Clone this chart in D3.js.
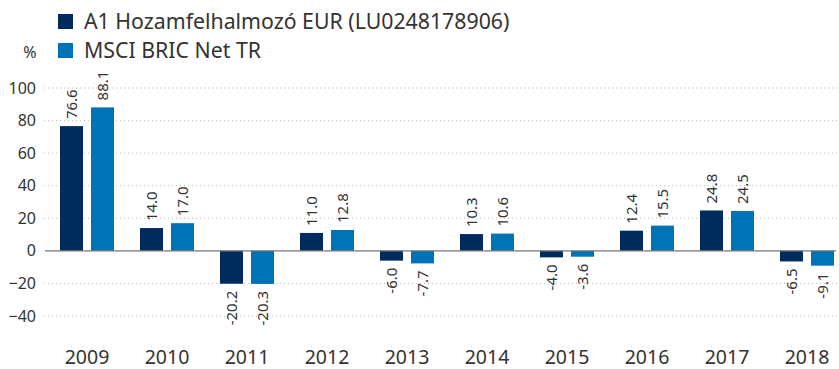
<!DOCTYPE html>
<html>
<head>
<meta charset="utf-8">
<script src="https://cdn.jsdelivr.net/npm/d3@7"></script>
<style>
  html, body { margin: 0; padding: 0; background: #fff; }
  svg { display: block; font-family: "Noto Sans", "Open Sans", sans-serif; }
</style>
</head>
<body>
<svg id="chart" width="839" height="369"></svg>
<script>
// Annual returns, fund vs. benchmark
const years = ["2009", "2010", "2011", "2012", "2013", "2014", "2015", "2016", "2017", "2018"];
const seriesNames = ["A1 Hozamfelhalmozó EUR (LU0248178906)", "MSCI BRIC Net TR"];
const fundValues = [76.6, 14.0, -20.2, 11.0, -6.0, 10.3, -4.0, 12.4, 24.8, -6.5];
const indexValues = [88.1, 17.0, -20.3, 12.8, -7.7, 10.6, -3.6, 15.5, 24.5, -9.1];
const yTicks = [-40, -20, 0, 20, 40, 60, 80, 100];
const colors = ["#002b5c", "#0073b7"];

const svg = d3.select("#chart");
const textColor = "#333";

const y = d3.scaleLinear().domain([-40, 100]).range([316, 88]);
const x0 = d3.scaleBand().domain(years).range([47, 847]).padding(0);
const x1 = d3.scaleBand().domain([0, 1]).range([13, 67]).paddingInner(0.258).paddingOuter(0);

// Gridlines
svg.append("g")
  .selectAll("line")
  .data(yTicks.filter(d => d !== 0))
  .join("line")
  .attr("x1", 44).attr("x2", 839)
  .attr("y1", d => y(d)).attr("y2", d => y(d))
  .attr("stroke", "#bbb")
  .attr("stroke-width", 1)
  .attr("stroke-dasharray", "1,3");

// Y axis labels
const yAxis = d3.axisLeft(y).tickValues(yTicks).tickSize(0).tickPadding(0);
svg.append("g")
  .attr("transform", "translate(36,0)")
  .call(yAxis)
  .call(g => g.select(".domain").remove())
  .call(g => g.selectAll("text")
    .attr("fill", textColor)
    .attr("font-size", 16)
    .attr("font-family", "Noto Sans, sans-serif"));

svg.append("text")
  .attr("x", 30).attr("y", 58)
  .attr("text-anchor", "middle")
  .attr("font-size", 16)
  .attr("fill", textColor)
  .text("%");

// Bars
const rows = years.map((yr, i) => ({ year: yr, values: [fundValues[i], indexValues[i]] }));
const groups = svg.append("g")
  .selectAll("g")
  .data(rows)
  .join("g")
  .attr("transform", d => `translate(${x0(d.year)},0)`);

groups.selectAll("rect")
  .data(d => d.values.map((v, k) => ({ v, k })))
  .join("rect")
  .attr("x", d => x1(d.k))
  .attr("width", x1.bandwidth())
  .attr("y", d => y(Math.max(0, d.v)))
  .attr("height", d => Math.abs(y(d.v) - y(0)))
  .attr("fill", d => colors[d.k]);

// Value labels, rotated
groups.selectAll("text")
  .data(d => d.values.map((v, k) => ({ v, k })))
  .join("text")
  .attr("transform", d => {
    const cx = x1(d.k) + x1.bandwidth() / 2;
    const cy = d.v >= 0 ? y(d.v) - 7 : y(d.v) + 7;
    return `translate(${cx},${cy}) rotate(-90)`;
  })
  .attr("text-anchor", d => d.v >= 0 ? "start" : "end")
  .attr("dy", "0.35em")
  .attr("font-size", 15)
  .attr("fill", textColor)
  .text(d => d.v.toFixed(1));

// Zero line
svg.append("line")
  .attr("x1", 45).attr("x2", 836)
  .attr("y1", y(0)).attr("y2", y(0))
  .attr("stroke", "#777")
  .attr("stroke-width", 1.2);

// X axis labels
const xAxis = d3.axisBottom(x0).tickSize(0).tickPadding(0);
svg.append("g")
  .attr("transform", "translate(0,350)")
  .call(xAxis)
  .call(g => g.select(".domain").remove())
  .call(g => g.selectAll("text")
    .attr("fill", textColor)
    .attr("font-size", 19.5)
    .attr("dy", "0.72em")
    .attr("font-family", "Noto Sans, sans-serif"));

// Legend
const legend = svg.append("g")
  .selectAll("g")
  .data(seriesNames)
  .join("g")
  .attr("transform", (d, i) => `translate(58,${14 + i * 29})`);
legend.append("rect")
  .attr("width", 15).attr("height", 15)
  .attr("fill", (d, i) => colors[i]);
legend.append("text")
  .attr("x", 26).attr("y", 14.5)
  .attr("font-size", 21.3)
  .attr("fill", textColor)
  .text(d => d);
</script>
</body>
</html>
